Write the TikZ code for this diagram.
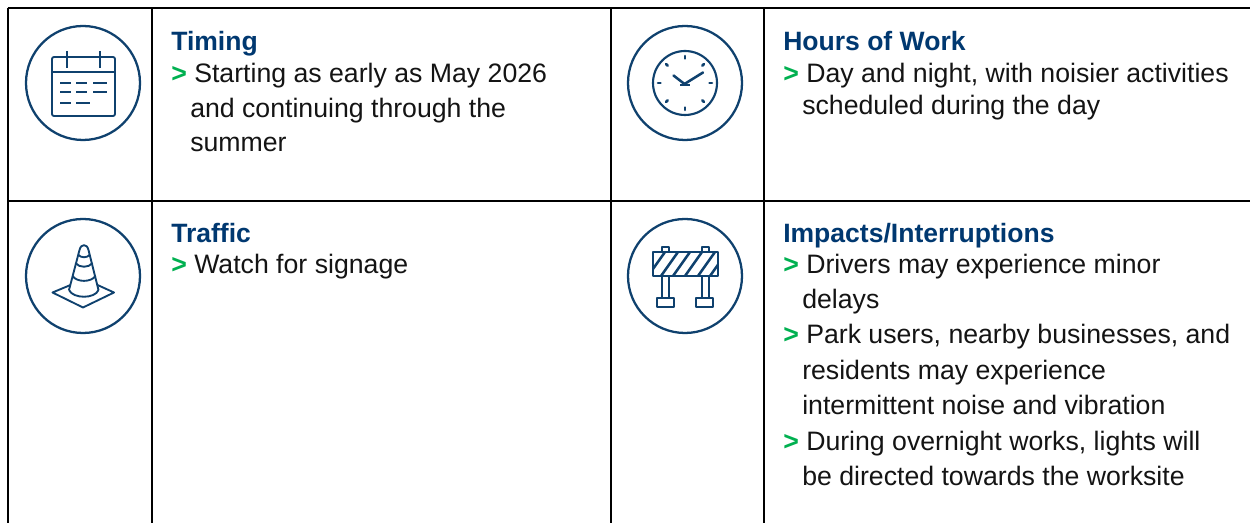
\documentclass[tikz,border=0pt]{standalone}
\usepackage{fontspec}
\usetikzlibrary{calc}
\setmainfont{Liberation Sans}
\definecolor{navy}{RGB}{15,65,110}
\definecolor{headblue}{RGB}{0,56,112}
\definecolor{chev}{RGB}{0,176,80}
\tikzset{
  grid/.style={line width=1.5pt,black},
  ring/.style={draw=navy,line width=1.7pt,circle,minimum size=85.5pt,inner sep=0pt},
  ico/.style={draw=navy,line width=1.4pt,line join=round},
  icodash/.style={draw=navy,line width=1.9pt},
  head/.style={anchor=base west,inner sep=0pt,yshift=-0.6pt,font=\fontsize{19.9pt}{19.9pt}\selectfont\bfseries,text=headblue},
  body/.style={anchor=base west,inner sep=0pt,yshift=-0.6pt,font=\fontsize{20pt}{20pt}\selectfont,text=black!92}
}
\newcommand{\chv}{{\fontsize{20pt}{20pt}\selectfont\color{chev}\bfseries >}}
\begin{document}
\begin{tikzpicture}[x=0.75pt,y=-0.75pt]
\useasboundingbox (0,0) rectangle (1250,523);
\fill[white] (0,0) rectangle (1250,523);
% grid
\coordinate (tl) at (7.5,8); \coordinate (tr) at (1250,8);
\coordinate (ml) at (7.5,201); \coordinate (mr) at (1250,201);
\coordinate (bl) at (7.5,523); \coordinate (v1t) at (152,8); \coordinate (v1b) at (152,523);
\coordinate (v2t) at (610.5,8); \coordinate (v2b) at (610.5,523);
\coordinate (v3t) at (764,8); \coordinate (v3b) at (764,523);
\draw[grid] (tl)--(tr) (ml)--(mr) (tl)--(bl) (v1t)--(v1b) (v2t)--(v2b) (v3t)--(v3b);
% rings
\node[ring] (c1) at (83,83) {};
\node[ring] (c2) at (685,83) {};
\node[ring] (c3) at (83,276) {};
\node[ring] (c4) at (685,276) {};
% calendar
\draw[ico,rounded corners=1.5pt] (52,57) rectangle (115,116);
\draw[ico] (52,72)--(115,72) (67,51)--(67,68) (100,51)--(100,68);
\draw[icodash] (60,83)--(71,83) (76,83)--(87,83) (93,83)--(107,83)
 (60,92)--(71,92) (76,92)--(87,92) (93,92)--(107,92)
 (60,103)--(71,103) (76,103)--(90,103);
% clock
\draw[ico,line width=1.6pt] (685,83) circle (32);
\foreach \a in {0,45,...,315}{
 \draw[draw=navy,line width=1.9pt,line cap=round] ($(685,83)+(\a:24.5)$)--($(685,83)+(\a:27)$);
}
\draw[draw=navy,line width=1.9pt,line cap=round,line join=round] (703,72.5)--(684.5,84)--(673.5,75.5);
\draw[draw=navy,line width=1.5pt] (680,85)--(690,85);
% cone
\draw[ico] (69,290) -- (79.5,250) .. controls (81,243.5) and (87,243.5) .. (88.5,250) -- (98.5,290);
\draw[ico] (69,290) .. controls (73,299) and (95,299) .. (98.5,290);
\draw[ico] (78.5,255) .. controls (81,258) and (87,258) .. (89.5,255);
\draw[ico] (75.5,263) .. controls (79,268) and (89,268) .. (92.5,263);
\draw[ico] (72.5,276) .. controls (77,282.5) and (91,282.5) .. (95.5,276);
\draw[ico] (70.5,285) -- (52.5,292.5) -- (83,307.5) -- (114,292.5) -- (97.5,285);
% barrier
\draw[ico] (662,252)--(662,247)--(669,247)--(669,252) (702,252)--(702,247)--(709,247)--(709,252);
\draw[ico] (662,276)--(662,298) (669,276)--(669,298) (702,276)--(702,298) (709,276)--(709,298);
\draw[ico] (657,298) rectangle (674,307);
\draw[ico] (696,298) rectangle (713,307);
\begin{scope}
\clip (653,252) rectangle (718,276);
\draw[ico,line width=1.9pt] (665,252)--(648,276) (678,252)--(661,276) (690,252)--(673,276) (702,252)--(685,276) (715,252)--(698,276) (727,252)--(710,276);
\end{scope}
\draw[ico,line width=1.6pt] (653,252) rectangle (718,276);
% text
\node[head] (h1) at (171,50) {Timing};
\node[body] (t1a) at (171,82) {\chv};
\node[body] (t1b) at (194,82) {Starting as early as May 2026};
\node[body] (t1c) at (190,117) {and continuing through the};
\node[body] (t1d) at (190,151) {summer};
\node[head] (h2) at (783,50) {Hours of Work};
\node[body] (t2a) at (783,82) {\chv};
\node[body] (t2b) at (806,82) {Day and night, with noisier activities};
\node[body] (t2c) at (802,114) {scheduled during the day};
\node[head] (h3) at (171,242) {Traffic};
\node[body] (t3a) at (171,273) {\chv};
\node[body] (t3b) at (194,273) {Watch for signage};
\node[head] (h4) at (783,242) {Impacts/Interruptions};
\node[body] (t4a) at (783,273) {\chv};
\node[body] (t4b) at (806,273) {Drivers may experience minor};
\node[body] (t4c) at (802,308) {delays};
\node[body] (t4d) at (783,343) {\chv};
\node[body] (t4e) at (806,343) {Park users, nearby businesses, and};
\node[body] (t4f) at (802,379) {residents may experience};
\node[body] (t4g) at (802,414) {intermittent noise and vibration};
\node[body] (t4h) at (783,450) {\chv};
\node[body] (t4i) at (806,450) {During overnight works, lights will};
\node[body] (t4j) at (802,485) {be directed towards the worksite};
\end{tikzpicture}
\end{document}
